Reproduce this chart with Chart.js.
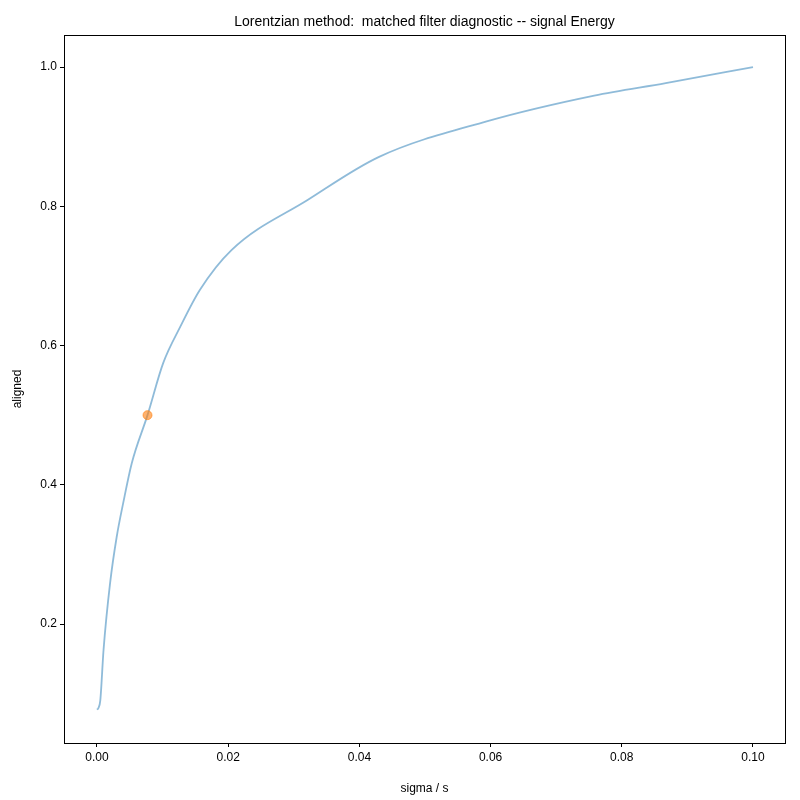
<!DOCTYPE html>
<html><head><meta charset="utf-8">
<script src="https://cdn.jsdelivr.net/npm/chart.js@4/dist/chart.umd.min.js"></script>
<style>html,body{margin:0;padding:0;background:#fff}#w{width:800px;height:800px}</style>
</head><body><div id="w"><canvas id="c"></canvas></div>
<script>
const sigma = [0, 0.0002, 0.0005, 0.001, 0.002, 0.003, 0.004, 0.0053, 0.0077, 0.0101, 0.0127, 0.0157, 0.0205, 0.0321, 0.043, 0.0594, 0.0758, 0.0867, 0.1];
const aligned = [0.077, 0.079, 0.09, 0.163, 0.259, 0.325, 0.374, 0.431, 0.5, 0.575, 0.627, 0.68, 0.737, 0.809, 0.871, 0.922, 0.959, 0.977, 1.0];
const markerX = [0.0077];
const markerY = [0.5];
const xTicks = [0, 0.02, 0.04, 0.06, 0.08, 0.1];
const yTicks = [0.2, 0.4, 0.6, 0.8, 1.0];
const titleText = 'Lorentzian method:  matched filter diagnostic -- signal Energy';

const F = 'Liberation Sans, Arial, sans-serif';
const frame = {
  id: 'frame',
  afterDraw(ch) {
    const a = ch.chartArea, c = ch.ctx;
    c.save(); c.strokeStyle = '#000'; c.lineWidth = 1;
    c.strokeRect(a.left + 0.5, a.top + 0.5, a.right - a.left, a.bottom - a.top);
    c.fillStyle = '#000'; c.font = '14px ' + F; c.textAlign = 'center'; c.textBaseline = 'bottom';
    c.fillText(titleText, (a.left + a.right) / 2, a.top - 6);
    c.restore();
  }
};
new Chart(document.getElementById('c'), {
  type: 'scatter',
  data: { datasets: [
    { data: markerX.map((x, i) => ({x, y: markerY[i]})), backgroundColor: 'rgba(255,127,14,0.6)', borderColor: 'rgba(255,127,14,0.6)', pointRadius: 4.5, order: 0 },
    { data: sigma.map((x, i) => ({x, y: aligned[i]})), showLine: true, borderColor: 'rgba(31,119,180,0.5)', borderWidth: 1.8, pointRadius: 0, cubicInterpolationMode: 'monotone', order: 1 }
  ]},
  plugins: [frame],
  options: {
    responsive: true, maintainAspectRatio: false, animation: false,
    layout: { padding: { top: 35, right: 15, left: 0, bottom: 0 } },
    plugins: { legend: { display: false }, tooltip: { enabled: false } },
    scales: {
      x: { type: 'linear', min: -0.00503, max: 0.10488,
        afterBuildTicks: s => { s.ticks = xTicks.map(v => ({value: v})); },
        afterFit: s => { s.height = 57; },
        grid: { drawOnChartArea: false, color: '#000', tickLength: 4 }, border: { color: '#000' },
        ticks: { color: '#000', font: { size: 12, family: F }, callback: v => v.toFixed(2), maxRotation: 0 },
        title: { display: true, text: 'sigma / s', color: '#000', font: { size: 12, family: F }, padding: { top: -6 } } },
      y: { min: 0.0291, max: 1.046,
        afterBuildTicks: s => { s.ticks = yTicks.map(v => ({value: v})); },
        afterFit: s => { s.width = 64; },
        grid: { drawOnChartArea: false, color: '#000', tickLength: 4 }, border: { color: '#000' },
        ticks: { color: '#000', font: { size: 12, family: F }, callback: v => v.toFixed(1) },
        title: { display: true, text: 'aligned', color: '#000', font: { size: 12, family: F }, padding: { top: 10, bottom: 0 } } }
    }
  }
});
</script></body></html>
